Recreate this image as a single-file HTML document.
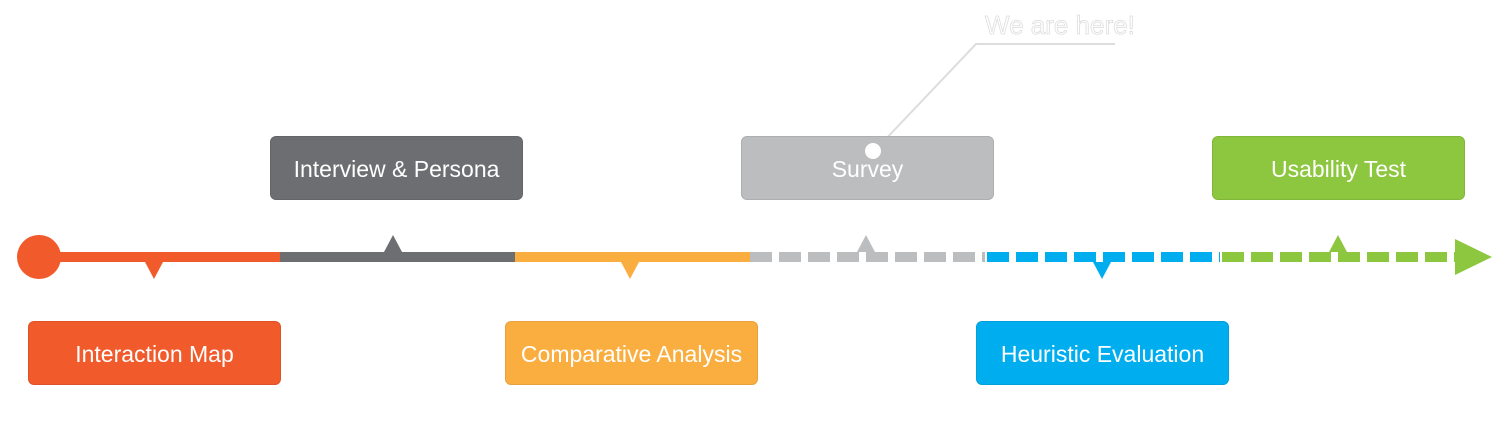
<!DOCTYPE html>
<html><head><style>
body{margin:0;width:1500px;height:445px;background:#fff;overflow:hidden;position:relative;font-family:"Liberation Sans",sans-serif}
.b{position:absolute;width:253px;height:64px;border-radius:6px;color:#fff;font-size:23px;display:flex;align-items:center;justify-content:center;box-sizing:border-box;border:1px solid rgba(0,0,0,0.08);padding-top:3px}
</style></head><body>
<svg width="1500" height="445" style="position:absolute;left:0;top:0">
<line x1="40" y1="257" x2="280" y2="257" stroke="#f15a2b" stroke-width="10"/>
<line x1="280" y1="257" x2="515" y2="257" stroke="#6d6e71" stroke-width="10"/>
<line x1="515" y1="257" x2="750" y2="257" stroke="#fbae40" stroke-width="10"/>
<line x1="750" y1="257" x2="985" y2="257" stroke="#bcbdbf" stroke-width="10" stroke-dasharray="22 7"/>
<line x1="987" y1="257" x2="1220" y2="257" stroke="#00aeef" stroke-width="10" stroke-dasharray="22 7"/>
<line x1="1222" y1="257" x2="1458" y2="257" stroke="#8dc63f" stroke-width="10" stroke-dasharray="22 7"/>
<polygon points="1455,239 1492,257 1455,275" fill="#8dc63f"/>
<circle cx="39" cy="257" r="22" fill="#f15a2b"/>
<polygon points="145,262 163,262 154,279" fill="#f15a2b"/>
<polygon points="384,252 402,252 393,235" fill="#6d6e71"/>
<polygon points="621,262 639,262 630,279" fill="#fbae40"/>
<polygon points="857,252 875,252 866,235" fill="#bcbdbf"/>
<polygon points="1093,262 1111,262 1102,279" fill="#00aeef"/>
<polygon points="1329,252 1347,252 1338,235" fill="#8dc63f"/>
<text x="985" y="34" font-size="26" fill="#fff" stroke="#ddd" stroke-width="0.8" font-family="Liberation Sans">We are here!</text>
<polyline points="1115,44 976,44 882,143" fill="none" stroke="#ddd" stroke-width="2"/>
</svg>
<div class="b" style="left:28px;top:321px;background:#f15a2b">Interaction Map</div>
<div class="b" style="left:270px;top:136px;background:#6d6e71">Interview &amp; Persona</div>
<div class="b" style="left:505px;top:321px;background:#fbae40">Comparative Analysis</div>
<div class="b" style="left:741px;top:136px;background:#bcbdbf">Survey</div>
<div class="b" style="left:976px;top:321px;background:#00aeef">Heuristic Evaluation</div>
<div class="b" style="left:1212px;top:136px;background:#8dc63f">Usability Test</div>
<svg width="1500" height="445" style="position:absolute;left:0;top:0"><circle cx="873" cy="151" r="8" fill="#fff"/></svg>
</body></html>
